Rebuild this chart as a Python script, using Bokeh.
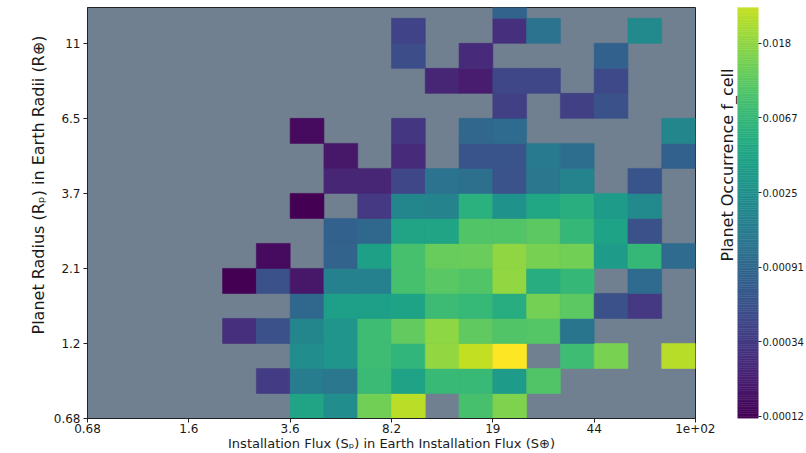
import numpy as np
from bokeh.plotting import figure
from bokeh.models import ColumnDataSource, FixedTicker, LogColorMapper, Title, Range1d
from bokeh.palettes import Viridis256
from bokeh.layouts import row
from bokeh.embed import file_html
from bokeh.resources import INLINE

# ---- bins (log-spaced) ----
flux_min, flux_max, n_flux = 0.68, 100.0, 18      # insolation flux bins (S_earth)
rad_min, rad_max, n_rad = 0.68, 20.0, 18          # planet radius bins (R_earth)
rad_view_top = 14.9                               # visible top of the radius axis

x_tick_labels = ["0.68", "1.6", "3.6", "8.2", "19", "44", "1e+02"]
y_tick_labels = ["0.68", "1.2", "2.1", "3.7", "6.5", "11"]

# ---- colour scale (log) ----
f_min, f_max = 0.00012, 0.05
cbar_ticks = [0.0001234, 0.0003355, 0.000912, 0.002479, 0.006738, 0.01832]
cbar_tick_labels = ["0.00012", "0.00034", "0.00091", "0.0025", "0.0067", "0.018"]

# ---- planet occurrence per cell, one list per radius bin (bottom -> top), 18 flux bins each ----
N = None
r00 = [N, N, N, N, N, N, 0.0041, 0.0023, 0.014, 0.027, N, 0.0087, 0.0155, N, N, N, N, N]
r01 = [N, N, N, N, N, 0.00035, 0.0015, 0.0013, 0.0073, 0.0039, 0.0072, 0.0071, 0.0034, 0.0098, N, N, N, N]
r02 = [N, N, N, N, N, N, 0.0023, 0.0028, 0.0076, 0.0064, 0.019, 0.029, 0.05, N, 0.0076, 0.015, N, 0.026]
r03 = [N, N, N, N, 0.00027, 0.00054, 0.0019, 0.0028, 0.0076, 0.0118, 0.0178, 0.0114, 0.0098, 0.0103, 0.00125, N, N, N]
r04 = [N, N, N, N, N, N, 0.00093, 0.0036, 0.0036, 0.004, 0.0075, 0.0069, 0.0051, 0.0141, 0.011, 0.00054, 0.00033, N]
r05 = [N, N, N, N, 0.00012, 0.00054, 0.000178, 0.0017, 0.0017, 0.0087, 0.0106, 0.0098, 0.019, 0.0052, 0.0066, N, 0.001, N]
r06 = [N, N, N, N, N, 0.000144, N, 0.00082, 0.0037, 0.0087, 0.0123, 0.0125, 0.0185, 0.0145, 0.0137, 0.0034, 0.0066, 0.001]
r07 = [N, N, N, N, N, N, N, 0.00078, 0.00093, 0.0041, 0.0041, 0.0098, 0.0097, 0.011, 0.0066, 0.004, 0.00054, N]
r08 = [N, N, N, N, N, N, 0.00012, N, 0.00033, 0.0019, 0.0018, 0.0057, 0.0026, 0.0045, 0.0054, 0.0033, 0.0021, N]
r09 = [N, N, N, N, N, N, N, 0.00023, 0.00023, 0.00043, 0.0012, 0.0011, 0.00056, 0.0013, 0.0018, N, 0.00057, N]
r10 = [N, N, N, N, N, N, N, 0.000178, N, 0.00025, N, 0.00057, 0.00057, 0.0014, 0.00105, N, N, 0.00078]
r11 = [N, N, N, N, N, N, 0.000144, N, N, 0.00031, N, 0.00088, 0.00098, N, N, N, N, 0.0019]
r12 = [N, N, N, N, N, N, N, N, N, N, N, N, 0.00038, N, 0.00038, 0.00054, N, N]
r13 = [N, N, N, N, N, N, N, N, N, N, 0.00023, 0.00019, 0.00043, 0.00043, N, 0.00045, N, N]
r14 = [N, N, N, N, N, N, N, N, N, 0.0005, N, 0.00025, N, N, N, 0.00078, N, N]
r15 = [N, N, N, N, N, N, N, N, N, 0.0004, N, N, 0.00028, 0.0012, N, N, 0.0021, N]
r16 = [N, N, N, N, N, N, N, N, N, N, N, N, 0.00082, N, N, N, N, N]
radius_rows = [r00, r01, r02, r03, r04, r05, r06, r07, r08, r09, r10, r11, r12, r13, r14, r15, r16]

x_edges = np.geomspace(flux_min, flux_max, n_flux + 1)
y_edges = np.geomspace(rad_min, rad_max, n_rad + 1)

left, right, bottom, top, rate = [], [], [], [], []
for ri, vals in enumerate(radius_rows):
    for ci, v in enumerate(vals):
        if v is None:
            continue
        left.append(x_edges[ci]); right.append(x_edges[ci + 1])
        bottom.append(y_edges[ri]); top.append(y_edges[ri + 1])
        rate.append(v)
src = ColumnDataSource(dict(left=left, right=right, bottom=bottom, top=top, rate=rate))

mapper = LogColorMapper(palette=Viridis256, low=f_min, high=f_max)

FONT = "DejaVu Sans"
TXT = "#1a1a1a"
H = 453
B_TOP = 7
B_BOTTOM = 34
B_LEFT = 87
MAIN_W = 715
B_RIGHT = 20

p = figure(width=MAIN_W, height=H, x_axis_type="log", y_axis_type="log",
           x_range=Range1d(flux_min, flux_max), y_range=Range1d(rad_min, rad_view_top),
           output_backend="svg", toolbar_location=None,
           min_border_left=B_LEFT, min_border_right=B_RIGHT, min_border_top=B_TOP, min_border_bottom=B_BOTTOM)
p.background_fill_color = "#708090"
p.border_fill_color = "white"
p.grid.visible = False
p.outline_line_color = "#222222"
p.outline_line_width = 1

p.quad(left="left", right="right", bottom="bottom", top="top", source=src,
       fill_color={"field": "rate", "transform": mapper},
       line_color={"field": "rate", "transform": mapper}, line_width=0.6)

xt = list(x_edges[::3])
yt = list(y_edges[:18:3])
p.xaxis.ticker = FixedTicker(ticks=xt, minor_ticks=[])
p.xaxis.major_label_overrides = {t: s for t, s in zip(xt, x_tick_labels)}
p.yaxis.ticker = FixedTicker(ticks=yt, minor_ticks=[])
p.yaxis.major_label_overrides = {t: s for t, s in zip(yt, y_tick_labels)}

for ax in (p.xaxis[0], p.yaxis[0]):
    ax.axis_line_color = "#222222"
    ax.major_tick_line_color = "#222222"
    ax.major_tick_out = 4
    ax.major_tick_in = 0
    ax.major_label_text_font = FONT
    ax.major_label_text_font_size = "12px"
    ax.major_label_text_color = TXT
    ax.axis_label_text_font = FONT
    ax.axis_label_text_font_style = "normal"
    ax.axis_label_text_color = TXT

p.yaxis.major_label_standoff = 3

p.xaxis.axis_label = "Installation Flux (Sₚ) in Earth Installation Flux (S⊕)"
p.xaxis.axis_label_text_font_size = "13px"
p.xaxis.major_label_standoff = 1
p.xaxis.axis_label_standoff = 0

# y-axis title as a side title so that it can sit where the (taller, cropped) original put it
p.add_layout(Title(text="Planet Radius (Rₚ) in Earth Radii (R⊕)", align="left", offset=84,
                   standoff=6, text_font=FONT, text_font_size="16px", text_font_style="normal",
                   text_color=TXT), "left")

# ---- colour bar as its own narrow figure sharing the frame height ----
CB_W = 806 - MAIN_W
CB_LEFT = 20
CB_FRAME = 23
frac = np.log(rad_view_top / rad_min) / np.log(rad_max / rad_min)
cb_top = float(np.exp(np.log(f_min) + frac * (np.log(f_max) - np.log(f_min))))
c = figure(width=CB_W, height=H, x_range=Range1d(0, 1), y_axis_type="log",
           y_range=Range1d(f_min, cb_top), x_axis_location=None, y_axis_location="right",
           output_backend="svg", toolbar_location=None,
           min_border_left=CB_LEFT, min_border_right=CB_W - CB_LEFT - CB_FRAME,
           min_border_top=B_TOP, min_border_bottom=B_BOTTOM)
c.grid.visible = False
c.outline_line_color = None
c.background_fill_color = "white"
cb_edges = np.geomspace(f_min, f_max, len(Viridis256) + 1)
c.quad(left=0, right=1, bottom=cb_edges[:-1], top=cb_edges[1:],
       fill_color=list(Viridis256), line_color=list(Viridis256), line_width=0.5)

cax = c.yaxis[0]
cax.ticker = FixedTicker(ticks=cbar_ticks, minor_ticks=[])
cax.major_label_overrides = {t: s for t, s in zip(cbar_ticks, cbar_tick_labels)}
cax.axis_line_color = None
cax.major_tick_line_color = "#222222"
cax.major_tick_out = 3
cax.major_tick_in = 0
cax.major_label_standoff = 1
cax.major_label_text_font = FONT
cax.major_label_text_font_size = "10px"
cax.major_label_text_color = TXT

c.add_layout(Title(text="Planet Occurrence f_cell", align="left", offset=157, standoff=1,
                   text_font=FONT, text_font_size="16px", text_font_style="normal",
                   text_color=TXT), "left")

layout = row(p, c, spacing=0)
open("out.html", "w").write(file_html(layout, INLINE))
